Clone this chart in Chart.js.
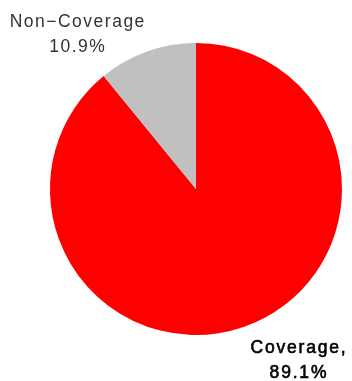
<!DOCTYPE html>
<html>
<head>
<meta charset="utf-8">
<script src="https://cdn.jsdelivr.net/npm/chart.js@4/dist/chart.umd.min.js"></script>
<style>
html,body{margin:0;padding:0;background:#fff;}
#wrap{width:352px;height:381px;position:relative;}
</style>
</head>
<body>
<div id="wrap"><canvas id="c" width="352" height="381"></canvas></div>
<script>
const categories = ["Coverage", "Non\u2212Coverage"];
const values = [89.1, 10.9];
const labelLines = [["Coverage,", "89.1%"], ["Non\u2212Coverage", "10.9%"]];
const colors = ["#ff0000", "#c0c0c0"];

const labelPlugin = {
  id: 'pieLabels',
  afterDatasetsDraw(chart) {
    const ctx = chart.ctx;
    const arc = chart.getDatasetMeta(0).data[0];
    const cx = arc.x, cy = arc.y, r = arc.outerRadius;
    // label anchors relative to the pie centre, in units of radius
    const anchors = [
      {dx: 0.705, dy: 1.09, color: '#000', stroke: 0.6, spacing: 1.8},
      {dx: -0.81, dy: -1.144, color: '#333', stroke: 0, spacing: 1.5}
    ];
    ctx.save();
    ctx.textAlign = 'center';
    ctx.textBaseline = 'middle';
    labelLines.forEach((lines, i) => {
      const a = anchors[i];
      ctx.fillStyle = a.color;
      ctx.strokeStyle = a.color;
      ctx.lineWidth = a.stroke;
      ctx.font = 'normal 17.5px "Liberation Sans", Arial, sans-serif';
      try { ctx.letterSpacing = a.spacing + 'px'; } catch(e) {}
      const x = cx + a.dx * r, y = cy + a.dy * r;
      lines.forEach((t, j) => {
        ctx.fillText(t, x, y + j * 25.5);
        if (a.stroke > 0) ctx.strokeText(t, x, y + j * 25.5);
      });
    });
    ctx.restore();
  }
};

new Chart(document.getElementById('c'), {
  type: 'pie',
  data: {
    labels: categories,
    datasets: [{data: values, backgroundColor: colors, borderWidth: 0}]
  },
  options: {
    responsive: false,
    animation: false,
    layout: {padding: {top: 43, bottom: 46, left: 50, right: 10}},
    plugins: {legend: {display: false}, tooltip: {enabled: false}}
  },
  plugins: [labelPlugin]
});
</script>
</body>
</html>
